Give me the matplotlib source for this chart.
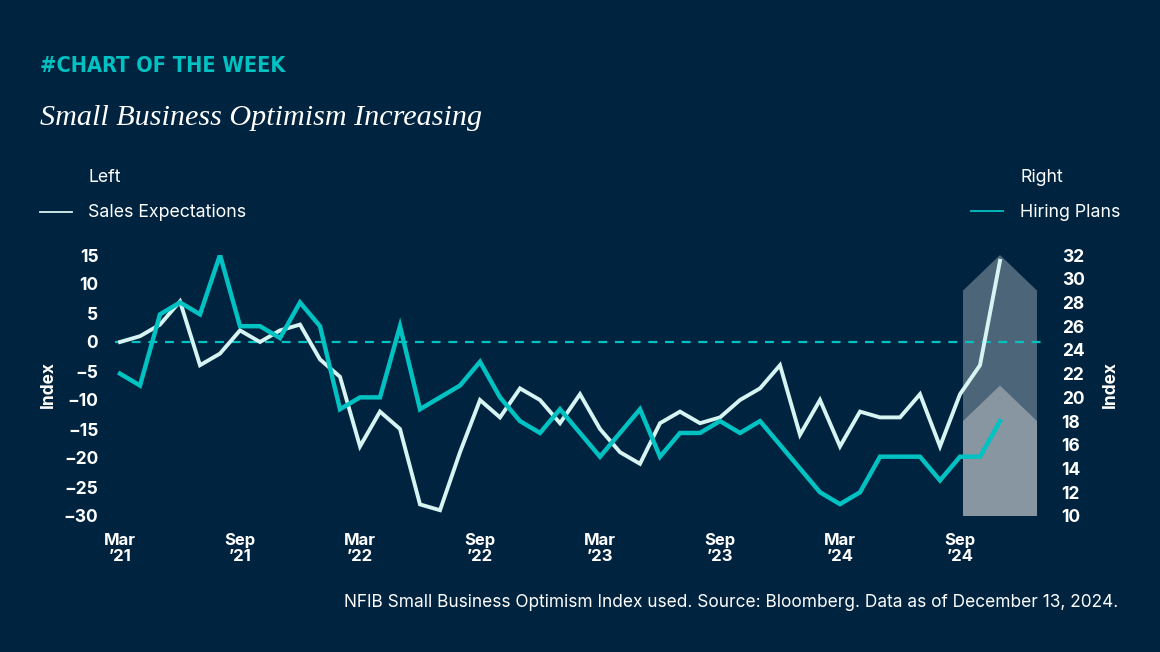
import matplotlib
matplotlib.use("Agg")
import matplotlib.pyplot as plt
from matplotlib import font_manager

# NFIB monthly readings, Mar 2021 .. Nov 2024
sales_expectations = [0, 1, 3, 7, -4, -2, 2, 0, 2, 3, -3, -6,
                      -18, -12, -15, -28, -29, -19, -10, -13, -8, -10, -14, -9,
                      -15, -19, -21, -14, -12, -14, -13, -10, -8, -4, -16, -10,
                      -18, -12, -13, -13, -9, -18, -9, -4, 14]
hiring_plans = [22, 21, 27, 28, 27, 32, 26, 26, 25, 28, 26, 19,
                20, 20, 26, 19, 20, 21, 23, 20, 18, 17, 19, 17,
                15, 17, 19, 15, 17, 17, 18, 17, 18, 16, 14, 12,
                11, 12, 15, 15, 15, 13, 15, 15, 18]
tick_labels = ["Mar\n\u201921", "Sep\n\u201921", "Mar\n\u201922", "Sep\n\u201922",
               "Mar\n\u201923", "Sep\n\u201923", "Mar\n\u201924", "Sep\n\u201924"]
left_ticks = [15, 10, 5, 0, -5, -10, -15, -20, -25, -30]
right_ticks = [32, 30, 28, 26, 24, 22, 20, 18, 16, 14, 12, 10]

BG = "#00233F"
TEAL = "#00C2C2"
WHITE_LINE = "#D6F4F1"
ARROW_OUT = "#4D6578"
ARROW_IN = "#8796A0"

names = {f.name for f in font_manager.fontManager.ttflist}
sans = "Inter" if "Inter" in names else "DejaVu Sans"
narrow = [f for f in font_manager.fontManager.ttflist
          if f.name == "DejaVu Sans" and f.stretch == "condensed" and f.weight == 700]

plt.rcParams["font.family"] = [sans, "DejaVu Sans"]
plt.rcParams["axes.unicode_minus"] = True

fig = plt.figure(figsize=(11.6, 6.52), dpi=100, facecolor=BG)
ax = fig.add_axes([115 / 1160, 1 - 516 / 652, 930 / 1160, 261 / 652])
ax.set_facecolor(BG)
ax2 = ax.twinx()

x = list(range(len(sales_expectations)))
ax.set_xlim(-0.25, 46.25)
ax.set_ylim(-30, 15)
ax2.set_ylim(10, 32)

# shaded arrows over the last months, drawn in right-axis units
last = x[-1]
x0, x1 = last - 1.85, last + 1.85
top, bot = ax2.get_ylim()[1], ax2.get_ylim()[0]
ax.fill([x0, x0, last, x1, x1], [bot, top - 3, top, top - 3, bot],
        color=ARROW_OUT, transform=ax2.transData, zorder=1, lw=0)
h = hiring_plans[-1]
ax.fill([x0, x0, last, x1, x1], [bot, h, h + 3, h, bot],
        color=ARROW_IN, transform=ax2.transData, zorder=1.5, lw=0)

ax.axhline(0, color=TEAL, lw=1.6, ls=(0, (4, 3.5)), zorder=2)
ax.plot(x, sales_expectations, color=WHITE_LINE, lw=2.8, zorder=3,
        solid_joinstyle="miter")
ax2.plot(x, hiring_plans, color=TEAL, lw=3.2, zorder=3, solid_joinstyle="miter")

for a in (ax, ax2):
    for s in a.spines.values():
        s.set_visible(False)
    a.tick_params(length=0, colors="white", labelsize=12.5)

ax.set_xticks(x[::6])
ax.set_xticklabels(tick_labels, fontweight="bold", fontsize=12, linespacing=1.15)
ax.tick_params(axis="x", pad=12)
ax.set_yticks(left_ticks)
ax.set_yticklabels([f"{v}".replace("-", "\u2212") for v in left_ticks], fontweight="bold")
ax.tick_params(axis="y", pad=12)
ax2.set_yticks(right_ticks)
ax2.set_yticklabels([str(v) for v in right_ticks], fontweight="bold")
ax2.tick_params(axis="y", pad=12)

fig.text(48 / 1160, 1 - 385 / 652, "Index", rotation=90, color="white",
         fontsize=12.5, fontweight="bold", ha="center", va="center")
fig.text(1110 / 1160, 1 - 385 / 652, "Index", rotation=90, color="white",
         fontsize=12.5, fontweight="bold", ha="center", va="center")

# header
if narrow:
    head_kw = dict(family="DejaVu Sans", fontstretch="condensed", fontsize=15.6)
else:
    head_kw = dict(family="Roboto", fontsize=15.5)
fig.text(40 / 1160, 1 - 72.5 / 652, "#CHART OF THE WEEK", color=TEAL,
         fontweight="bold", va="baseline", **head_kw)
fig.text(40 / 1160, 1 - 125 / 652, "Small Business Optimism Increasing",
         color="white", fontsize=21.7, style="italic", family="Liberation Serif",
         va="baseline")

# legend
fig.text(88 / 1160, 1 - 182 / 652, "Left", color="white", fontsize=12.8, va="baseline")
fig.text(88 / 1160, 1 - 217 / 652, "Sales Expectations", color="white",
         fontsize=12.8, va="baseline")
fig.add_artist(plt.Line2D([40 / 1160, 72 / 1160], [1 - 211.5 / 652] * 2,
                          color=WHITE_LINE, lw=1.3))
fig.text(1020 / 1160, 1 - 182 / 652, "Right", color="white", fontsize=12.8, va="baseline")
fig.text(1020 / 1160, 1 - 217 / 652, "Hiring Plans", color="white",
         fontsize=12.8, va="baseline")
fig.add_artist(plt.Line2D([971 / 1160, 1003 / 1160], [1 - 211 / 652] * 2,
                          color=TEAL, lw=1.3))

fig.text(1118 / 1160, 1 - 607 / 652,
         "NFIB Small Business Optimism Index used. Source: Bloomberg. Data as of December 13, 2024.",
         color="white", fontsize=12.45, ha="right", va="baseline")

fig.savefig("out.png", dpi=100, facecolor=BG)
